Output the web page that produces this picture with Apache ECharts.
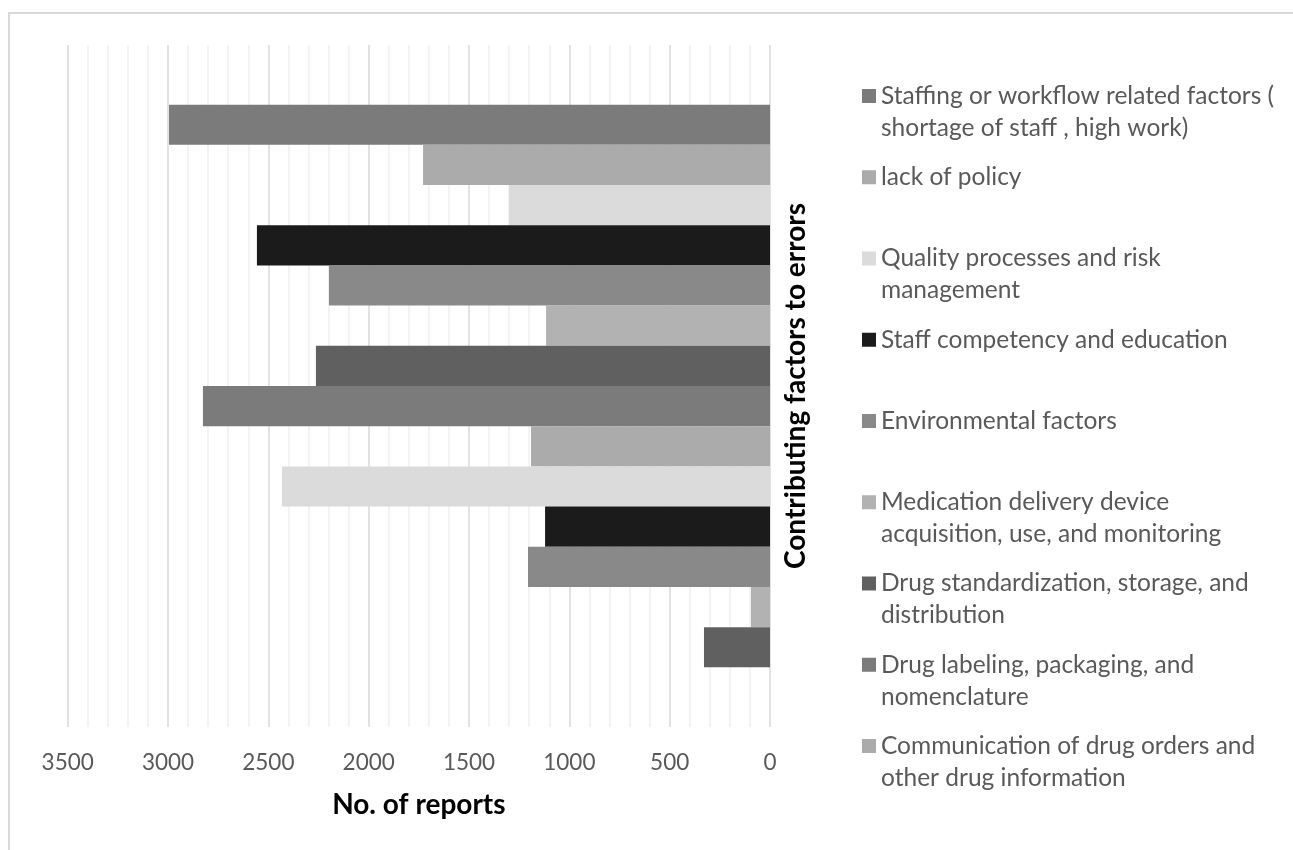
<!DOCTYPE html>
<html>
<head>
<meta charset="utf-8">
<script src="https://cdn.jsdelivr.net/npm/echarts@6/dist/echarts.min.js"></script>
<style>
  html, body { margin: 0; padding: 0; background: #fff; }
  #main { width: 1293px; height: 850px; }
</style>
</head>
<body>
<div id="main"></div>
<script>
// one bar per factor, top to bottom
const factorNames = [
  "Staffing or workflow related factors ( shortage of staff , high work)",
  "lack of policy",
  "Quality processes and risk management",
  "Staff competency and education",
  "Environmental factors",
  "Medication delivery device acquisition, use, and monitoring",
  "Drug standardization, storage, and distribution",
  "Drug labeling, packaging, and nomenclature",
  "Communication of drug orders and other drug information",
  "Factor 10",
  "Factor 11",
  "Factor 12",
  "Factor 13",
  "Factor 14"
];
const reportCounts = [2995, 1729, 1301, 2557, 2198, 1116, 2263, 2826, 1191, 2432, 1121, 1206, 95, 329];
const barColors = ["#7b7b7b", "#ababab", "#dbdbdb", "#1b1b1b", "#898989", "#b2b2b2", "#606060"];

// legend shows only the first nine entries (the rest is cut off in the original)
const legendLabels = [
  "Staffing or workflow related factors (\nshortage of staff , high work)",
  "lack of policy",
  "Quality processes and risk\nmanagement",
  "Staff competency and education",
  "Environmental factors",
  "Medication delivery device\nacquisition, use, and monitoring",
  "Drug standardization, storage, and\ndistribution",
  "Drug labeling, packaging, and\nnomenclature",
  "Communication of drug orders and\nother drug information"
];
const xTicks = { min: 0, max: 3500, interval: 500 };

const LH = 32;
const FONT = "Lato";

var chart = echarts.init(document.getElementById("main"));

var series = factorNames.map(function (name, i) {
  return {
    name: name,
    type: "bar",
    barGap: "0%",
    barCategoryGap: "17.5%",
    itemStyle: { color: barColors[i % barColors.length] },
    data: [reportCounts[i]]
  };
});

chart.setOption({
  animation: false,
  graphic: [
    {
      type: "rect",
      shape: { x: 9, y: 13, width: 1300, height: 900 },
      style: { fill: "none", stroke: "#d9d9d9", lineWidth: 2 },
      silent: true
    }
  ],
  grid: { left: 67.7, right: 523, top: 45, bottom: 123 },
  legend: {
    orient: "vertical",
    left: 862,
    top: 96 - 1.5 * LH,
    padding: 0,
    itemGap: 81.25 - 3 * LH,
    itemWidth: 14,
    itemHeight: 14,
    icon: "rect",
    data: factorNames.slice(0, 9),
    // three lines per entry so the marker sits on the first text line
    formatter: function (name) {
      var lines = legendLabels[factorNames.indexOf(name)].split("\n");
      if (lines.length < 2) lines.push(" ");
      return " \n" + lines.join("\n");
    },
    textStyle: {
      fontFamily: FONT,
      fontSize: 24.5,
      color: "#595959",
      lineHeight: LH
    }
  },
  xAxis: {
    type: "value",
    inverse: true,
    min: xTicks.min,
    max: xTicks.max,
    interval: xTicks.interval,
    name: "No. of reports",
    nameLocation: "middle",
    nameGap: 64,
    nameTextStyle: { fontFamily: FONT, fontSize: 28, fontWeight: "bold", color: "#000" },
    axisLine: { show: false },
    axisTick: { show: false },
    axisLabel: {
      fontFamily: FONT, fontSize: 22.5, color: "#595959", margin: 24,
      formatter: function (v) { return String(v); }
    },
    splitLine: { show: true, lineStyle: { color: "#d9d9d9", width: 1.5 } },
    minorTick: { show: false, splitNumber: 5 },
    minorSplitLine: { show: true, lineStyle: { color: "#f0f0f0", width: 1.5 } }
  },
  yAxis: {
    type: "category",
    inverse: true,
    position: "right",
    data: [""],
    name: "Contributing factors to errors",
    nameLocation: "middle",
    nameRotate: 90,
    nameGap: 12,
    nameTextStyle: { fontFamily: FONT, fontSize: 28, fontWeight: "bold", color: "#000" },
    axisLine: { show: false },
    axisTick: { show: false },
    axisLabel: { show: false },
    splitLine: { show: false }
  },
  series: series
});
</script>
</body>
</html>
